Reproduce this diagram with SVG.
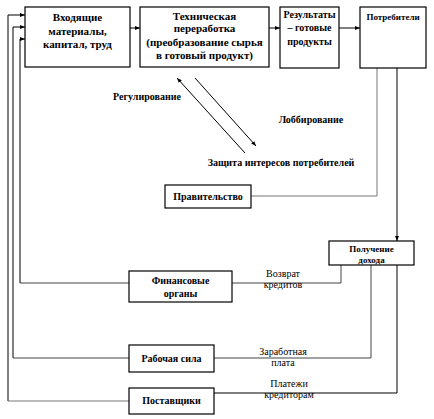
<svg xmlns="http://www.w3.org/2000/svg" width="434" height="419" viewBox="0 0 434 419">
<style>
.box{fill:#fff;stroke:#000;stroke-width:1.2}
text{font-family:'Liberation Serif','DejaVu Serif',serif}
.t{font-weight:bold;fill:#000;text-anchor:middle}
.lbl{fill:#000;text-anchor:middle;font-size:10px}
.blk{fill:none;stroke:#000;stroke-width:1}
.gry{fill:none;stroke:#777;stroke-width:1}
.dg{fill:none;stroke:#444;stroke-width:1}
</style>
<defs>
<marker id="ah" markerWidth="6" markerHeight="6" refX="5" refY="3" orient="auto" markerUnits="userSpaceOnUse">
<path d="M0,1 L5,3 L0,5 Z" fill="#000"/>
</marker>
</defs>
<rect width="434" height="419" fill="#fff"/>
<g id="connectors">
<line class="blk" x1="130" y1="28" x2="140" y2="28" marker-end="url(#ah)"/>
<line class="blk" x1="269" y1="28" x2="280" y2="28" marker-end="url(#ah)"/>
<line class="blk" x1="339" y1="28" x2="360" y2="28" marker-end="url(#ah)"/>
<polyline class="blk" points="8,401 8,15 25,15" marker-end="url(#ah)"/>
<polyline class="blk" points="13,358 13,27 25,27" marker-end="url(#ah)"/>
<polyline class="blk" points="20,283 20,39 25,39" marker-end="url(#ah)"/>
<line class="blk" x1="245" y1="153" x2="177" y2="78" marker-end="url(#ah)"/>
<line class="blk" x1="195" y1="78" x2="256" y2="146" marker-end="url(#ah)"/>
<polyline class="gry" points="251,196 377,196 377,68"/>
<line class="blk" x1="397" y1="68" x2="397" y2="241" marker-end="url(#ah)"/>
<line class="dg" x1="20" y1="283" x2="129" y2="283"/>
<polyline class="dg" points="232,283 341,283 341,265"/>
<line class="dg" x1="13" y1="358" x2="129" y2="358"/>
<polyline class="dg" points="214,358 371,358 371,265"/>
<line class="gry" x1="8" y1="401" x2="129" y2="401"/>
<polyline class="blk" points="214,393 397,393 397,265"/>
</g>
<g id="vhod">
<rect class="box" x="25" y="7" width="105" height="60"/>
<text class="t" font-size="11" x="77.5" y="21">Входящие</text>
<text class="t" font-size="11" x="77.5" y="35">материалы,</text>
<text class="t" font-size="11" x="77.5" y="48">капитал, труд</text>
</g>
<g id="tech">
<rect class="box" x="140" y="7" width="129" height="60"/>
<text class="t" font-size="11" x="204.5" y="20">Техническая</text>
<text class="t" font-size="11" x="204.5" y="32">переработка</text>
<text class="t" font-size="11" x="204.5" y="46">(преобразование сырья</text>
<text class="t" font-size="11" x="204.5" y="59">в готовый продукт)</text>
</g>
<g id="result">
<rect class="box" x="280" y="7" width="59" height="61"/>
<text class="t" font-size="10" x="309.5" y="18">Результаты</text>
<text class="t" font-size="10" x="309.5" y="31">– готовые</text>
<text class="t" font-size="10" x="309.5" y="45">продукты</text>
</g>
<g id="potreb">
<rect class="box" x="360" y="7" width="66" height="61"/>
<text class="t" font-size="9" x="393" y="20">Потребители</text>
</g>
<g id="labels-gov">
<text class="t" font-size="10" x="147" y="100">Регулирование</text>
<text class="t" font-size="10" x="311" y="123">Лоббирование</text>
<text class="t" font-size="10" x="281" y="166">Защита интересов потребителей</text>
</g>
<g id="prav">
<rect class="box" x="165" y="185" width="86" height="23"/>
<text class="t" font-size="10" x="208" y="200">Правительство</text>
</g>
<g id="dohod">
<rect class="box" x="329" y="241" width="85" height="24"/>
<text class="t" font-size="9" x="371.5" y="252">Получение</text>
<text class="t" font-size="9" x="371.5" y="263">дохода</text>
</g>
<g id="fin">
<rect class="box" x="129" y="271" width="103" height="31"/>
<text class="t" font-size="10" x="180.5" y="284">Финансовые</text>
<text class="t" font-size="10" x="180.5" y="297">органы</text>
</g>
<g id="rab">
<rect class="box" x="129" y="345" width="85" height="27"/>
<text class="t" font-size="10" x="171.5" y="362">Рабочая сила</text>
</g>
<g id="post">
<rect class="box" x="129" y="388" width="85" height="26"/>
<text class="t" font-size="10" x="171.5" y="404">Поставщики</text>
</g>
<g id="line-labels">
<text class="lbl" x="283" y="277">Возврат</text>
<text class="lbl" x="283" y="288">кредитов</text>
<text class="lbl" x="283" y="355">Заработная</text>
<text class="lbl" x="283" y="366">плата</text>
<text class="lbl" x="289" y="387">Платежи</text>
<text class="lbl" x="289" y="398">кредиторам</text>
</g>
</svg>
